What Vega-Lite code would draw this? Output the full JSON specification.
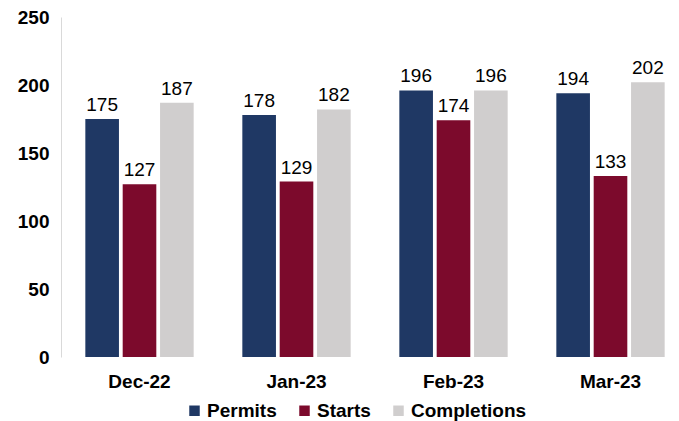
{
  "$schema": "https://vega.github.io/schema/vega-lite/v6.json",
  "autosize": "none",
  "width": 628,
  "height": 340,
  "padding": {"left": 61, "top": 17, "right": 0, "bottom": 64},
  "background": "white",
  "config": {"view": {"stroke": null}, "font": "Liberation Sans"},
  "data": {"values": [
    {"month": "Dec-22", "series": "Permits", "value": 175},
    {"month": "Dec-22", "series": "Starts", "value": 127},
    {"month": "Dec-22", "series": "Completions", "value": 187},
    {"month": "Jan-23", "series": "Permits", "value": 178},
    {"month": "Jan-23", "series": "Starts", "value": 129},
    {"month": "Jan-23", "series": "Completions", "value": 182},
    {"month": "Feb-23", "series": "Permits", "value": 196},
    {"month": "Feb-23", "series": "Starts", "value": 174},
    {"month": "Feb-23", "series": "Completions", "value": 196},
    {"month": "Mar-23", "series": "Permits", "value": 194},
    {"month": "Mar-23", "series": "Starts", "value": 133},
    {"month": "Mar-23", "series": "Completions", "value": 202}
  ]},
  "encoding": {
    "x": {"field": "month", "type": "nominal", "sort": ["Dec-22", "Jan-23", "Feb-23", "Mar-23"],
      "scale": {"paddingInner": 0.31, "paddingOuter": 0.155},
      "axis": {"title": null, "labelAngle": 0, "labelFont": "Liberation Sans", "labelFontSize": 19, "labelFontWeight": "bold", "labelColor": "#000000", "labelPadding": 15, "domain": false, "ticks": false}},
    "xOffset": {"field": "series", "type": "nominal", "sort": ["Permits", "Starts", "Completions"], "scale": {"paddingInner": 0.1}},
    "y": {"field": "value", "type": "quantitative",
      "scale": {"domain": [0, 250], "nice": false},
      "axis": {"title": null, "values": [0, 50, 100, 150, 200, 250], "grid": false, "ticks": false, "domain": true, "domainColor": "#d9d9d9", "labelFont": "Liberation Sans", "labelFontSize": 19, "labelFontWeight": "bold", "labelColor": "#000000", "labelPadding": 12}}
  },
  "layer": [
    {
      "mark": {"type": "bar"},
      "encoding": {
        "color": {"field": "series", "type": "nominal", "sort": ["Permits", "Starts", "Completions"],
          "scale": {"domain": ["Permits", "Starts", "Completions"], "range": ["#1F3864", "#7C0A2C", "#D0CECE"]},
          "legend": {"title": null, "orient": "none", "legendX": 124, "legendY": 384, "direction": "horizontal", "symbolType": "square", "symbolSize": 110, "labelFont": "Liberation Sans", "labelFontSize": 19, "labelFontWeight": "bold", "labelColor": "#000000", "columnPadding": 18, "symbolStrokeWidth": 0, "labelOffset": 3}}
      }
    },
    {
      "mark": {"type": "text", "dy": -14, "fontSize": 19, "font": "Liberation Sans", "color": "#000000"},
      "encoding": {"text": {"field": "value", "type": "quantitative"}}
    }
  ]
}
